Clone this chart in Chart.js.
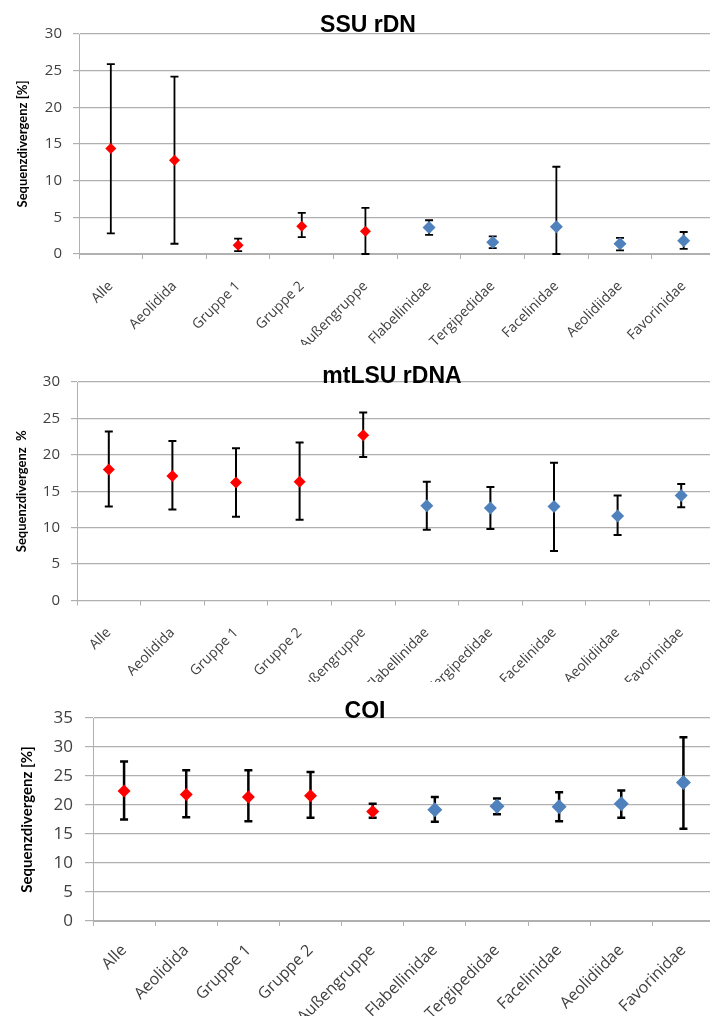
<!DOCTYPE html>
<html>
<head>
<meta charset="utf-8">
<script src="https://cdn.jsdelivr.net/npm/chart.js@4.4.1/dist/chart.umd.min.js"></script>
<style>
  html, body { margin: 0; padding: 0; background: #fff; overflow: hidden; width: 710px; height: 1016px; }
  canvas { position: absolute; left: 0; }
</style>
</head>
<body>
<canvas id="ssu" width="722" height="345" style="top:0px"></canvas>
<canvas id="lsu" width="722" height="352" style="top:330px"></canvas>
<canvas id="coi" width="722" height="346" style="top:670px"></canvas>
<script>
// Categories (shared by all three panels)
const categories = ['Alle', 'Aeolidida', 'Gruppe 1', 'Gruppe 2', 'Außengruppe',
                    'Flabellinidae', 'Tergipedidae', 'Facelinidae', 'Aeolidiidae', 'Favorinidae'];

// SSU rDN: mean, min, max (%)
const ssuMean = [14.4, 12.8, 1.2, 3.8, 3.1, 3.6, 1.6, 3.7, 1.4, 1.8];
const ssuLow  = [2.8, 1.4, 0.4, 2.3, 0.0, 2.6, 0.8, 0.0, 0.5, 0.7];
const ssuHigh = [25.9, 24.2, 2.1, 5.6, 6.3, 4.6, 2.4, 11.9, 2.2, 3.0];

// mtLSU rDNA
const lsuMean = [18.0, 17.1, 16.2, 16.3, 22.7, 13.0, 12.7, 12.9, 11.6, 14.4];
const lsuLow  = [12.9, 12.5, 11.5, 11.1, 19.7, 9.7, 9.8, 6.8, 9.0, 12.8];
const lsuHigh = [23.2, 21.9, 20.9, 21.7, 25.8, 16.3, 15.6, 18.9, 14.4, 16.0];

// COI
const coiMean = [22.4, 21.8, 21.4, 21.6, 18.9, 19.2, 19.8, 19.7, 20.2, 23.9];
const coiLow  = [17.5, 17.9, 17.2, 17.8, 17.8, 17.1, 18.4, 17.2, 17.8, 15.9];
const coiHigh = [27.5, 26.0, 26.0, 25.7, 20.2, 21.4, 21.1, 22.2, 22.5, 31.7];

const RED = '#ff0000';
const BLUE = '#4f81bd';
const GRID = '#b0b0b0';
const TEXT = '#404040';

// first five categories are red, the families blue
const markerColors = categories.map((c, i) => i < 5 ? RED : BLUE);

// Draw min/max whiskers behind the markers
const errorBarPlugin = {
    id: 'errorBars',
    beforeDatasetsDraw(chart, args, opts) {
        const ctx = chart.ctx;
        const x = chart.scales.x, y = chart.scales.y;
        ctx.save();
        ctx.strokeStyle = '#000';
        ctx.lineWidth = opts.width;
        opts.low.forEach((lo, i) => {
            const px = x.getPixelForValue(i);
            const yl = y.getPixelForValue(lo);
            const yh = y.getPixelForValue(opts.high[i]);
            ctx.beginPath();
            ctx.moveTo(px, yl); ctx.lineTo(px, yh);
            ctx.moveTo(px - opts.cap, yl); ctx.lineTo(px + opts.cap, yl);
            ctx.moveTo(px - opts.cap, yh); ctx.lineTo(px + opts.cap, yh);
            ctx.stroke();
        });
        ctx.restore();
    }
};

// Title sits on top of the upper gridline, like in the original
const overTitlePlugin = {
    id: 'overTitle',
    afterDraw(chart, args, opts) {
        const ctx = chart.ctx;
        ctx.save();
        ctx.font = 'bold 23px "Liberation Sans", Arial, sans-serif';
        ctx.fillStyle = '#000';
        ctx.textAlign = 'center';
        ctx.textBaseline = 'alphabetic';
        ctx.fillText(opts.text, opts.x, chart.chartArea.top + opts.dy);
        ctx.restore();
    }
};

function makeChart(id, p) {
    const ctx = document.getElementById(id).getContext('2d');
    return new Chart(ctx, {
        type: 'line',
        data: {
            labels: categories,
            datasets: [{
                data: p.mean,
                showLine: false,
                pointStyle: 'rectRot',
                pointRadius: markerColors.map(c => c === RED ? p.redSize : p.blueSize),
                pointBackgroundColor: markerColors,
                pointBorderWidth: 0,
                pointHoverRadius: 0
            }]
        },
        options: {
            responsive: false,
            animation: false,
            events: [],
            layout: { padding: { top: p.top, right: p.right, left: 0, bottom: 0 } },
            plugins: {
                legend: { display: false },
                tooltip: { enabled: false },
                errorBars: { low: p.low, high: p.high, cap: 4, width: p.barWidth },
                overTitle: { text: p.title, x: p.titleX, dy: p.titleDy }
            },
            scales: {
                x: {
                    offset: true,
                    grid: { offset: true, drawOnChartArea: false, drawTicks: true, tickLength: 5, color: GRID },
                    border: { color: GRID, width: 1 },
                    ticks: {
                        autoSkip: false, minRotation: 45, maxRotation: 45, padding: p.xPad,
                        color: TEXT, font: { family: '"Open Sans", sans-serif', size: p.xFont }
                    },
                    afterFit(s) { s.height = p.xHeight; s.paddingLeft = 0; s.paddingRight = 0; }
                },
                y: {
                    min: 0, max: p.max,
                    ticks: {
                        stepSize: 5, padding: p.yPad, color: TEXT,
                        font: { family: '"Open Sans", sans-serif', size: p.yFont }
                    },
                    grid: { color: GRID, lineWidth: 1.2, tickLength: p.yTick },
                    border: { color: GRID, width: 1 },
                    title: {
                        display: true, text: p.yTitle, color: '#000',
                        font: { family: 'Lato, sans-serif', weight: 'bold', size: p.yTitleSize },
                        padding: { top: p.yTitlePad, bottom: 0 }
                    },
                    afterFit(s) { s.width = p.yWidth; s.paddingTop = 0; s.paddingBottom = 0; }
                }
            }
        },
        plugins: [errorBarPlugin, overTitlePlugin]
    });
}

makeChart('ssu', {
    title: 'SSU rDN', titleX: 368, titleDy: -2,
    yTitle: 'Sequenzdivergenz [%]', yTitleSize: 13, yTitlePad: 15,
    mean: ssuMean, low: ssuLow, high: ssuHigh, max: 30,
    top: 34, right: 3, yWidth: 79, xHeight: 91,
    xFont: 14, yFont: 15, xPad: 19, yPad: 11, yTick: 6,
    redSize: 5.5, blueSize: 6.5, barWidth: 1.8
});

makeChart('lsu', {
    title: 'mtLSU rDNA', titleX: 392, titleDy: 1,
    yTitle: 'Sequenzdivergenz  %', yTitleSize: 13, yTitlePad: 14,
    mean: lsuMean, low: lsuLow, high: lsuHigh, max: 30,
    top: 52, right: 9, yWidth: 77, xHeight: 81.5,
    xFont: 14, yFont: 15, xPad: 19, yPad: 11, yTick: 6,
    redSize: 6, blueSize: 6.5, barWidth: 2
});

makeChart('coi', {
    title: 'COI', titleX: 365, titleDy: 0,
    yTitle: 'Sequenzdivergenz [%]', yTitleSize: 15, yTitlePad: 18,
    mean: coiMean, low: coiLow, high: coiHigh, max: 35,
    top: 48, right: 1, yWidth: 93, xHeight: 95,
    xFont: 16, yFont: 17, xPad: 15, yPad: 12, yTick: 8,
    redSize: 6.5, blueSize: 7.5, barWidth: 2.5
});
</script>
</body>
</html>
